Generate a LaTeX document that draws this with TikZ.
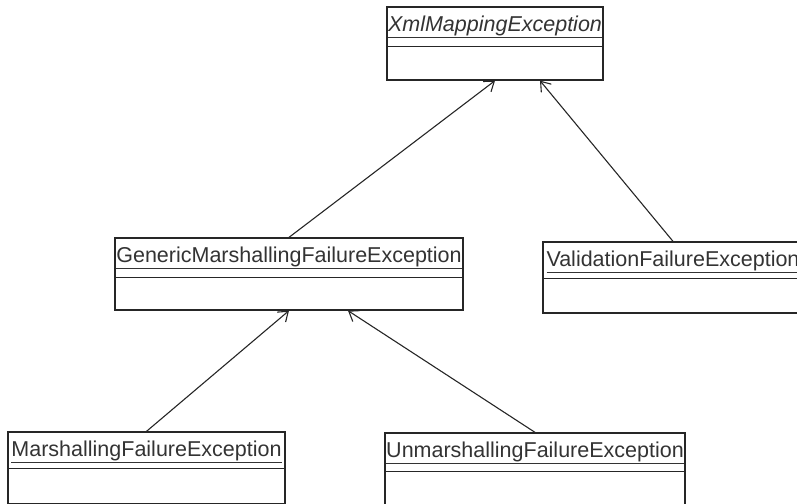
\documentclass[tikz,border=0pt]{standalone}
\usepackage{fontspec}
\setmainfont{Liberation Sans}
\usetikzlibrary{arrows.meta,calc}

\tikzset{
	classbox/.style={draw=black!85, line width=1.3pt, minimum height=72pt, inner sep=0pt},
	classtitle/.style={anchor=base, inner sep=0pt, text=black!80, font=\fontsize{21.5}{24}\selectfont},
	divider/.style={draw=black!85, line width=1.3pt},
	inherit/.style={draw=black!85, line width=1.1pt, -{Straight Barb[length=9pt, width=13pt]}}
}

\begin{document}
\begin{tikzpicture}[x=1pt, y=-1pt]
	\useasboundingbox (0,0) rectangle (797,503);
	\clip (0,0) rectangle (797,503);

	% Class boxes
	\node[classbox, minimum width=216pt, minimum height=73pt] (xml) at (495, 43.5) {};
	\node[classbox, minimum width=348pt] (gen) at (289, 274) {};
	\node[classbox, minimum width=260pt, minimum height=71pt] (val) at (673, 277.5) {};
	\node[classbox, minimum width=277pt] (marsh) at (146.5, 468) {};
	\node[classbox, minimum width=300pt] (unm) at (535, 469) {};

	% Class names
	\node[classtitle] (xmlT) at ($(xml.north)+(0,25)$) {\underline{\textit{XmlMappingException}}};
	\node[classtitle] (genT) at ($(gen.north)+(0,25)$) {\underline{GenericMarshallingFailureException}};
	\node[classtitle] (valT) at ($(val.north)+(0,25)$) {\underline{ValidationFailureException}};
	\node[classtitle] (marshT) at ($(marsh.north)+(0,25)$) {\underline{MarshallingFailureException}};
	\node[classtitle] (unmT) at ($(unm.north)+(0,25)$) {\underline{UnmarshallingFailureException}};

	% Draw the dividers under the names
	\draw[divider] ($(xml.north west)+(0,40)$) -- ($(xml.north east)+(0,40)$);
	\draw[divider] ($(gen.north west)+(0,40)$) -- ($(gen.north east)+(0,40)$);
	\draw[divider] ($(val.north west)+(0,37)$) -- ($(val.north east)+(0,37)$);
	\draw[divider] ($(marsh.north west)+(0,37)$) -- ($(marsh.north east)+(0,37)$);
	\draw[divider] ($(unm.north west)+(0,39)$) -- ($(unm.north east)+(0,39)$);

	% Draw the inheritance arrows
	\draw[inherit] (gen.north) -- (xml.south);
	\draw[inherit] (val.north) -- ([xshift=45pt]xml.south);
	\draw[inherit] (marsh.north) -- (gen.south);
	\draw[inherit] (unm.north) -- ([xshift=59pt]gen.south);
\end{tikzpicture}
\end{document}
